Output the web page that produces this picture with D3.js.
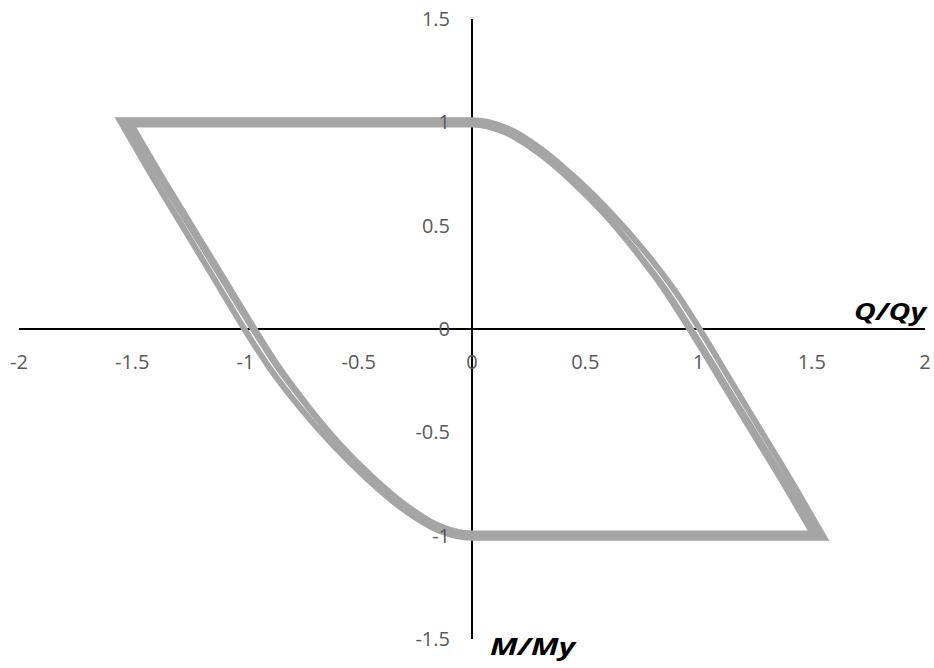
<!DOCTYPE html>
<html>
<head>
<meta charset="utf-8">
<script src="https://cdn.jsdelivr.net/npm/d3@7/dist/d3.min.js"></script>
<style>
  html, body { margin: 0; padding: 0; background: #fff; }
  svg { display: block; }
</style>
</head>
<body>
<svg id="chart" width="934" height="668"></svg>
<script>
// Axis ticks
const xTicks = [-2, -1.5, -1, -0.5, 0, 0.5, 1, 1.5, 2];
const yTicks = [-1.5, -1, -0.5, 0, 0.5, 1, 1.5];
const xTitle = "Q/Qy";
const yTitle = "M/My";

// Hysteresis cycles. Each cycle: descending branch (plateau at M = +1, then
// unloading down to M = -1) followed by ascending branch (plateau at M = -1,
// then reloading up to M = +1), listed in traversal order.
const qDown1 = [-1.51, 0, 0.14, 0.29, 0.44, 0.58, 0.725, 0.853, 0.96, 1.10, 1.24, 1.38, 1.51];
const mDown1 = [1, 1, 0.965, 0.864, 0.721, 0.564, 0.373, 0.184, 0, -0.252, -0.504, -0.756, -1];
const qUp1   = [1.51, 0, -0.14, -0.29, -0.44, -0.58, -0.725, -0.853, -0.96, -1.10, -1.24, -1.38, -1.51];
const mUp1   = [-1, -1, -0.965, -0.864, -0.721, -0.564, -0.373, -0.184, 0, 0.252, 0.504, 0.756, 1];

const qDown2 = [-1.52, 0, 0.14, 0.29, 0.442, 0.584, 0.73, 0.86, 0.967, 1.107, 1.247, 1.387, 1.52];
const mDown2 = [0.99, 0.99, 0.955, 0.855, 0.714, 0.558, 0.369, 0.182, 0, -0.249, -0.499, -0.748, -0.99];
const qUp2   = [1.52, 0, -0.14, -0.29, -0.442, -0.584, -0.73, -0.86, -0.967, -1.107, -1.247, -1.387, -1.52];
const mUp2   = [-0.99, -0.99, -0.955, -0.855, -0.714, -0.558, -0.369, -0.182, 0, 0.249, 0.499, 0.748, 0.99];

const qDown3 = [-1.555, 0, 0.147, 0.303, 0.46, 0.607, 0.762, 0.895, 1.005, 1.145, 1.285, 1.425, 1.555];
const mDown3 = [1.01, 1.01, 0.975, 0.873, 0.728, 0.570, 0.377, 0.186, 0, -0.255, -0.509, -0.764, -1.01];
const qUp3   = [1.555, 0, -0.147, -0.303, -0.46, -0.607, -0.762, -0.895, -1.005, -1.145, -1.285, -1.425, -1.555];
const mUp3   = [-1.01, -1.01, -0.975, -0.873, -0.728, -0.570, -0.377, -0.186, 0, 0.255, 0.509, 0.764, 1.01];

const cycles = [
  { down: [qDown1, mDown1], up: [qUp1, mUp1] },
  { down: [qDown2, mDown2], up: [qUp2, mUp2] },
  { down: [qDown3, mDown3], up: [qUp3, mUp3] }
];

const svg = d3.select("#chart");

const x = d3.scaleLinear().domain([-2, 2]).range([19, 925]);
const y = d3.scaleLinear().domain([-1.5, 1.5]).range([639, 19]);

const labelFont = "'Open Sans', 'Liberation Sans', sans-serif";

// Axis lines crossing at the origin
svg.append("line")
  .attr("x1", x(-2)).attr("x2", x(2))
  .attr("y1", y(0)).attr("y2", y(0))
  .attr("stroke", "#000").attr("stroke-width", 2);
svg.append("line")
  .attr("x1", x(0)).attr("x2", x(0))
  .attr("y1", y(1.5)).attr("y2", y(-1.5))
  .attr("stroke", "#000").attr("stroke-width", 2);

// Loops: each branch is monotone in Q, so a monotone curve keeps the plateaus
// flat and the knee smooth; both branches form one closed outline.
const branchLine = d3.line()
  .x(d => x(d[0]))
  .y(d => y(d[1]))
  .curve(d3.curveMonotoneX);

const pts = pair => pair[0].map((q, i) => [q, pair[1][i]]);

cycles.forEach(c => {
  const dDown = branchLine(pts(c.down));
  const dUp = branchLine(pts(c.up)).replace(/^M[^A-Za-z]*/, "");
  svg.append("path")
    .attr("d", dDown + dUp + "Z")
    .attr("fill", "none")
    .attr("stroke", "#a5a5a5")
    .attr("stroke-width", 6)
    .attr("stroke-linejoin", "miter")
    .attr("stroke-miterlimit", 10);
});

// Tick labels
svg.append("g").selectAll("text")
  .data(xTicks)
  .join("text")
  .attr("x", d => x(d))
  .attr("y", 369)
  .attr("text-anchor", "middle")
  .attr("font-family", labelFont)
  .attr("font-size", 20)
  .attr("fill", "#595959")
  .text(d => d);

svg.append("g").selectAll("text")
  .data(yTicks)
  .join("text")
  .attr("x", 450)
  .attr("y", d => y(d))
  .attr("dy", "0.35em")
  .attr("text-anchor", "end")
  .attr("font-family", labelFont)
  .attr("font-size", 20)
  .attr("fill", "#595959")
  .text(d => d);

// Axis titles
svg.append("text")
  .attr("x", 926).attr("y", 320)
  .attr("text-anchor", "end")
  .attr("font-family", labelFont)
  .attr("font-size", 24)
  .attr("font-weight", "bold")
  .attr("font-style", "italic")
  .attr("textLength", 72)
  .attr("lengthAdjust", "spacingAndGlyphs")
  .text(xTitle);

svg.append("text")
  .attr("x", 490).attr("y", 655)
  .attr("font-family", labelFont)
  .attr("font-size", 24)
  .attr("font-weight", "bold")
  .attr("font-style", "italic")
  .attr("textLength", 85)
  .attr("lengthAdjust", "spacingAndGlyphs")
  .text(yTitle);
</script>
</body>
</html>
